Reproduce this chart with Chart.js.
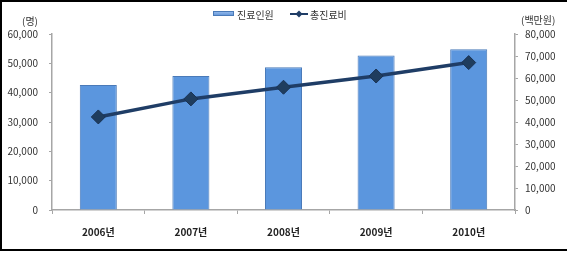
<!DOCTYPE html>
<html>
<head>
<meta charset="utf-8">
<script src="https://cdn.jsdelivr.net/npm/chart.js@4"></script>
<style>
  html, body { margin: 0; padding: 0; background: #fff; }
  #wrap { width: 567px; height: 253px; position: relative; }
</style>
</head>
<body>
<div id="wrap"><canvas id="chart" width="567" height="253"></canvas></div>
<script>
const years = ["2006년", "2007년", "2008년", "2009년", "2010년"];
const patients = [42600, 45700, 48700, 52700, 54800];
const totalCost = [42300, 50500, 55800, 60900, 67000];
const leftTicks = [0, 10000, 20000, 30000, 40000, 50000, 60000];
const rightTicks = [0, 10000, 20000, 30000, 40000, 50000, 60000, 70000, 80000];

const FONT = "'Noto Sans CJK KR', 'Noto Sans', sans-serif";
const TEXT = "#333333";
const AXIS = "#a6a6a6";

function fmt(v) {
  return Number(v).toLocaleString("en-US");
}

// border, unit labels and legend
const decorPlugin = {
  id: "decor",
  afterDraw(chart) {
    const ctx = chart.ctx;
    const area = chart.chartArea;
    ctx.save();

    ctx.strokeStyle = "#000";
    ctx.lineWidth = 2;
    ctx.beginPath();
    ctx.moveTo(567, 1);
    ctx.lineTo(1, 1);
    ctx.lineTo(1, 250);
    ctx.lineTo(567, 250);
    ctx.stroke();

    ctx.font = "10px " + FONT;
    ctx.fillStyle = TEXT;
    ctx.textBaseline = "middle";
    ctx.textAlign = "left";
    ctx.fillText("(명)", 22, area.top - 13);
    ctx.fillText("(백만원)", area.right + 6, area.top - 14);

    // legend
    const y = 14;
    const grad = ctx.createLinearGradient(0, y - 3, 0, y + 3);
    grad.addColorStop(0, "#9cc0ee");
    grad.addColorStop(1, "#4f86d2");
    ctx.fillStyle = grad;
    ctx.fillRect(213, y - 3, 21, 5);
    ctx.strokeStyle = "#4a7ab8";
    ctx.lineWidth = 1;
    ctx.strokeRect(213.5, y - 2.5, 20, 4);
    ctx.fillStyle = TEXT;
    ctx.fillText("진료인원", 237, y + 1);

    ctx.strokeStyle = "#1f3d66";
    ctx.lineWidth = 2;
    ctx.beginPath();
    ctx.moveTo(290, y);
    ctx.lineTo(308, y);
    ctx.stroke();
    ctx.fillStyle = "#1f3d66";
    ctx.beginPath();
    ctx.moveTo(299, y - 3.5);
    ctx.lineTo(302.5, y);
    ctx.lineTo(299, y + 3.5);
    ctx.lineTo(295.5, y);
    ctx.closePath();
    ctx.fill();
    ctx.fillStyle = TEXT;
    ctx.fillText("총진료비", 310, y + 1);

    ctx.restore();
  }
};

function barFill(context) {
  const chart = context.chart;
  const el = context.element;
  if (!chart.chartArea || !el || el.width === undefined) return "#5b96de";
  const g = chart.ctx.createLinearGradient(el.x - el.width / 2, 0, el.x + el.width / 2, 0);
  g.addColorStop(0, "#4f85cc");
  g.addColorStop(0.08, "#5b96de");
  g.addColorStop(0.92, "#5b96de");
  g.addColorStop(1, "#4f85cc");
  return g;
}

new Chart(document.getElementById("chart"), {
  data: {
    labels: years,
    datasets: [
      {
        type: "line",
        label: "총진료비",
        data: totalCost,
        yAxisID: "yRight",
        borderColor: "#1f3d66",
        backgroundColor: "#1f3d66",
        borderWidth: 3.5,
        pointStyle: "rectRot",
        pointRadius: 7,
        pointBackgroundColor: "#1f3d5e",
        pointBorderColor: "#1a3355",
        pointBorderWidth: 1,
        tension: 0,
        order: 0
      },
      {
        type: "bar",
        label: "진료인원",
        data: patients,
        yAxisID: "yLeft",
        backgroundColor: barFill,
        borderColor: "#4a7ab8",
        borderWidth: 1,
        barPercentage: 0.4,
        categoryPercentage: 1,
        order: 1
      }
    ]
  },
  options: {
    responsive: false,
    animation: false,
    layout: { padding: { top: 34, left: 0, right: 0, bottom: 0 } },
    plugins: {
      legend: { display: false },
      tooltip: { enabled: false }
    },
    scales: {
      x: {
        grid: {
          offset: true,
          drawOnChartArea: false,
          color: AXIS,
          tickLength: 4
        },
        border: { color: AXIS, width: 1.5 },
        ticks: {
          color: "#222",
          font: { family: FONT, size: 10, weight: "bold" },
          padding: 12
        },
        afterFit(scale) { scale.height = 43; }
      },
      yLeft: {
        position: "left",
        min: 0,
        max: 60000,
        afterBuildTicks(scale) { scale.ticks = leftTicks.map(v => ({ value: v })); },
        grid: { drawOnChartArea: false, color: AXIS, tickLength: 3 },
        border: { color: AXIS, width: 1.5 },
        ticks: {
          color: TEXT,
          font: { family: FONT, size: 10 },
          padding: 11,
          callback: v => fmt(v)
        },
        afterFit(scale) { scale.width = 52; }
      },
      yRight: {
        position: "right",
        min: 0,
        max: 80000,
        afterBuildTicks(scale) { scale.ticks = rightTicks.map(v => ({ value: v })); },
        grid: { drawOnChartArea: false, color: AXIS, tickLength: 3 },
        border: { color: AXIS, width: 1.5 },
        ticks: {
          color: TEXT,
          font: { family: FONT, size: 10 },
          padding: 7,
          callback: v => fmt(v)
        },
        afterFit(scale) { scale.width = 52; }
      }
    }
  },
  plugins: [decorPlugin]
});
</script>
</body>
</html>
